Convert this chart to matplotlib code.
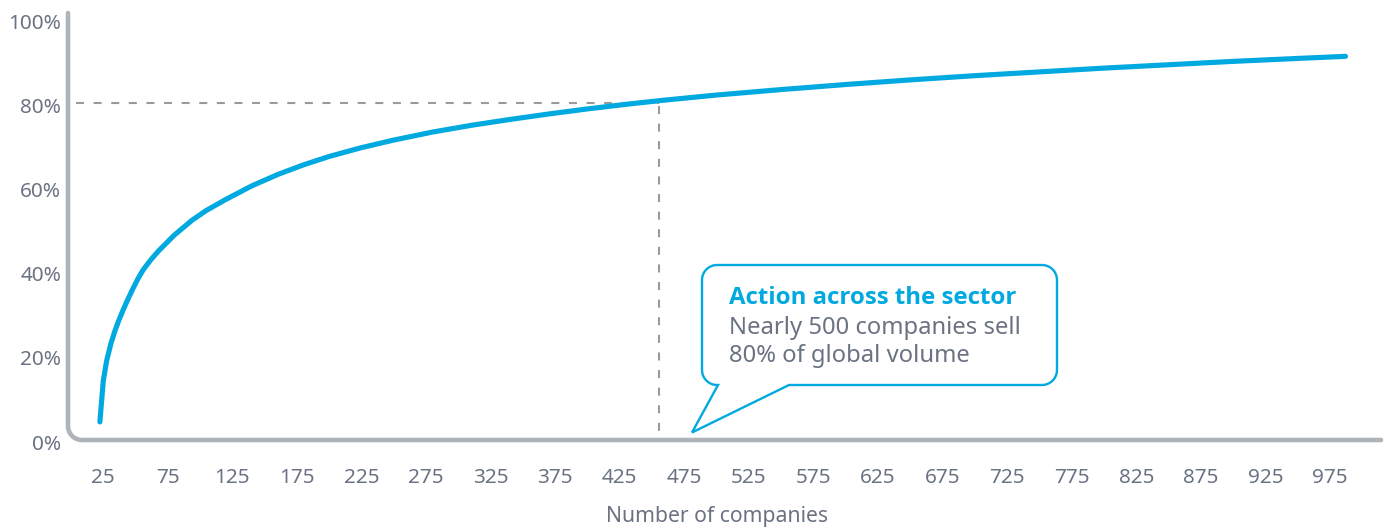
import matplotlib
matplotlib.use("Agg")
import matplotlib.pyplot as plt
import matplotlib.transforms as mtransforms
from matplotlib import font_manager as fm
from matplotlib.path import Path
from matplotlib.patches import PathPatch
import numpy as np

# Cumulative share of global volume by number of companies
companies = [22.4, 25, 27.6, 31, 34, 37, 40.5, 44, 48, 52, 56, 62, 68, 80, 94,
             105, 120, 140, 160, 180, 200, 225, 250, 280, 310, 340, 370, 400,
             430, 460, 500, 550, 600, 650, 700, 750, 800, 850, 900, 950, 987]
share = [4.3, 14.0, 18.8, 23.0, 25.9, 28.4, 31.0, 33.4, 36.0, 38.4, 40.5, 42.9,
         45.0, 48.7, 52.3, 54.6, 57.2, 60.4, 63.1, 65.4, 67.4, 69.5, 71.3, 73.2,
         74.8, 76.2, 77.5, 78.7, 79.8, 80.8, 82.0, 83.3, 84.5, 85.6, 86.6, 87.5,
         88.4, 89.2, 90.0, 90.7, 91.2]

x_ticks = list(range(25, 1000, 50))
y_ticks = [0, 20, 40, 60, 80, 100]
y_tick_labels = [f"{v}%" for v in y_ticks]

threshold_share = 80
threshold_companies = 455

callout_title = "Action across the sector"
callout_body = "Nearly 500 companies sell\n80% of global volume"
x_label = "Number of companies"

BLUE = "#00a9e0"
AXIS_GREY = "#aeb4ba"
DASH_GREY = "#9a9a9a"
TEXT_GREY = "#6b7383"

plt.rcParams["font.family"] = ["Noto Sans", "DejaVu Sans"]


def bold_font():
    """Pick a normal-width bold face of Noto Sans / Open Sans."""
    wmap = {"bold": 700, "semibold": 600, "demibold": 600, "heavy": 800,
            "extra bold": 800, "black": 900, "normal": 400, "regular": 400}
    for fam in ("Noto Sans", "Open Sans"):
        for f in fm.fontManager.ttflist:
            if f.name != fam or f.style != "normal":
                continue
            w = f.weight if isinstance(f.weight, int) else wmap.get(str(f.weight).lower(), 400)
            name = f.fname.lower()
            if w != 700 or "condensed" in name or "semi" in name or "extra" in name:
                continue
            if f.stretch not in ("normal", 500):
                continue
            return fm.FontProperties(fname=f.fname)
    return fm.FontProperties(family=["Open Sans", "DejaVu Sans"], weight="bold")


W, H = 1391, 527
fig = plt.figure(figsize=(W / 100, H / 100), dpi=100)
renderer = fig.canvas.get_renderer()


def fit_size(text_artist, target_px):
    """Scale a text's font size so its rendered width is target_px."""
    w = text_artist.get_window_extent(renderer).width
    text_artist.set_fontsize(text_artist.get_fontsize() * target_px / w)


# plot area in pixels (from left / from top)
L, R, T, B = 68, 1381, 13, 440
ax = fig.add_axes([L / W, 1 - B / H, (R - L) / W, (B - T) / H])
ax.set_xlim(-2.3, 1014.5)
ax.set_ylim(0, 101.5)
for s in ax.spines.values():
    s.set_visible(False)


def fpx(x, y_top):
    """Pixel position (from top-left) to figure fraction."""
    return (x / W, 1 - y_top / H)


# axis lines with a rounded lower-left corner
r = 14
theta = np.linspace(np.pi, 1.5 * np.pi, 20)
cx, cy = L + r, B - r
arc = [(cx + r * np.cos(t), cy - r * np.sin(t)) for t in theta]
axis_pts = [(L, T)] + arc + [(R, B)]
xs, ys = zip(*[fpx(px, py) for px, py in axis_pts])
fig.add_artist(plt.Line2D(xs, ys, transform=fig.transFigure, color=AXIS_GREY,
                          lw=3.3, solid_capstyle="round", solid_joinstyle="round",
                          zorder=1))

# ticks
ax.set_xticks(x_ticks)
ax.set_xticklabels([str(v) for v in x_ticks])
ax.set_yticks(y_ticks)
ax.set_yticklabels(y_tick_labels)
ax.xaxis.set_tick_params(length=0, pad=0, labelsize=15, labelcolor=TEXT_GREY)
ax.yaxis.set_tick_params(length=0, pad=5, labelsize=15, labelcolor=TEXT_GREY)

# tick label size chosen so that "100%" spans ~53 px
probe = fig.text(0, 0, "100%", fontsize=15)
fit_size(probe, 52.7)
tick_size = probe.get_fontsize()
probe.remove()
ax.xaxis.set_tick_params(labelsize=tick_size)
ax.yaxis.set_tick_params(labelsize=tick_size)

xshift = mtransforms.ScaledTranslation(0, -28 / 100, fig.dpi_scale_trans)
for lab in ax.get_xticklabels():
    lab.set_transform(lab.get_transform() + xshift)
yshift = mtransforms.ScaledTranslation(0, -2 / 100, fig.dpi_scale_trans)
for lab in ax.get_yticklabels():
    lab.set_transform(lab.get_transform() + yshift)

xl = fig.text(717 / W, 1 - 521.7 / H, x_label, ha="center", va="baseline",
              fontsize=15.2, color=TEXT_GREY)
fit_size(xl, 222)

# 80% reference lines
ax.plot([4, threshold_companies], [threshold_share, threshold_share],
        color=DASH_GREY, lw=1.5, dashes=(3.85, 4.6), zorder=2, clip_on=False)
ax.plot([threshold_companies, threshold_companies], [threshold_share - 0.6, 1.5],
        color=DASH_GREY, lw=1.5, dashes=(3.85, 4.6), zorder=2, clip_on=False)

# main curve
ax.plot(companies, share, color=BLUE, lw=3.7, solid_capstyle="round",
        solid_joinstyle="round", zorder=3, clip_on=False)

# callout box with pointer
bl, br, bt, bb, rr = 702, 1057, 265, 385, 15
tip = (692, 432.5)
pts = []


def corner(cx_, cy_, a0, a1):
    for t in np.linspace(a0, a1, 12):
        pts.append((cx_ + rr * np.cos(t), cy_ - rr * np.sin(t)))


pts.append((bl + rr, bt))
pts.append((br - rr, bt))
corner(br - rr, bt + rr, 0.5 * np.pi, 0.0)
pts.append((br, bb - rr))
corner(br - rr, bb - rr, 0.0, -0.5 * np.pi)
pts.append((789, bb))
pts.append(tip)
pts.append((bl + rr + 1, bb))
corner(bl + rr, bb - rr, -0.5 * np.pi, -np.pi)
pts.append((bl, bt + rr))
corner(bl + rr, bt + rr, np.pi, 0.5 * np.pi)
pts.append(pts[0])
verts = [fpx(px, py) for px, py in pts]
codes = [Path.MOVETO] + [Path.LINETO] * (len(verts) - 2) + [Path.CLOSEPOLY]
fig.add_artist(PathPatch(Path(verts, codes), transform=fig.transFigure,
                         facecolor="white", edgecolor=BLUE, lw=1.7,
                         joinstyle="miter", zorder=5))

title_font = bold_font()
title_font.set_size(15.7)
ttl = fig.text(729 / W, 1 - 304.3 / H, callout_title, ha="left", va="baseline",
               fontproperties=title_font, color=BLUE, zorder=6)
fit_size(ttl, 287)

body_lines = callout_body.split("\n")
body = [fig.text(729 / W, 1 - base / H, line, ha="left", va="baseline",
                 fontsize=15.7, color=TEXT_GREY, zorder=6)
        for line, base in zip(body_lines, [334, 361.7])]
fit_size(body[0], 293)
body[1].set_fontsize(body[0].get_fontsize())

fig.savefig("out.png", dpi=100, facecolor="white")
